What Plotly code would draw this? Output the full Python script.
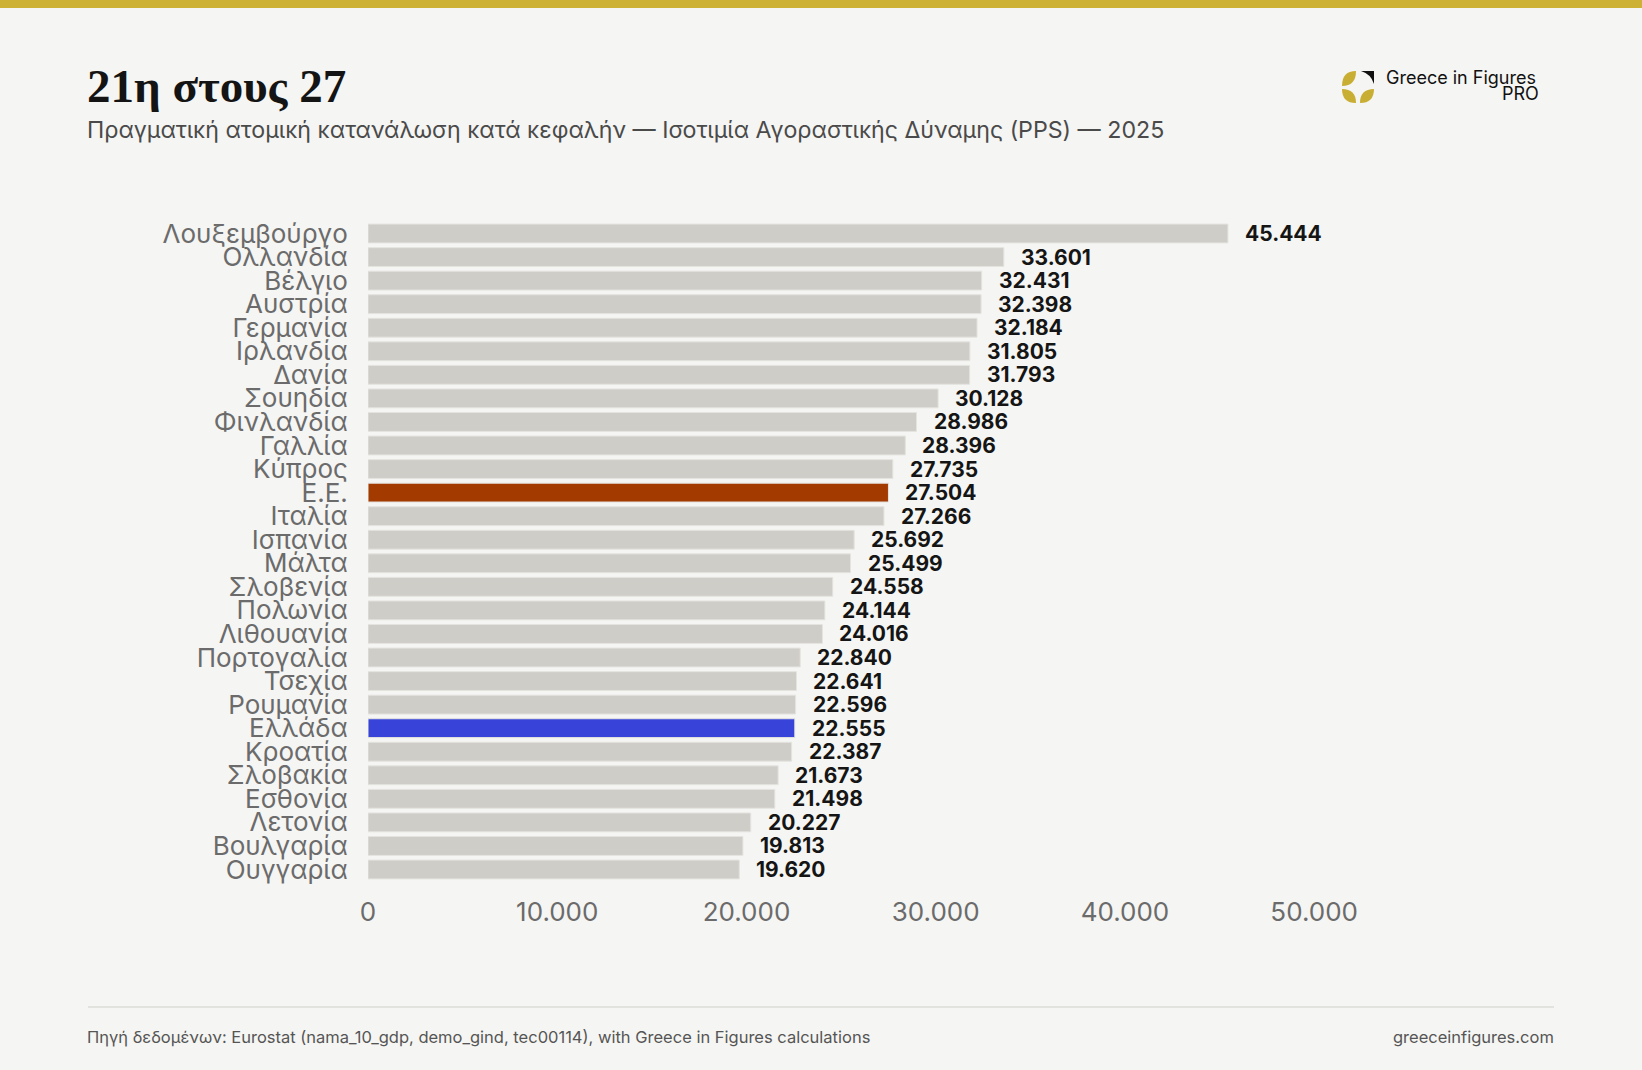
import plotly.graph_objects as go

# data, read top to bottom from the chart
countries = ["Λουξεμβούργο", "Ολλανδία", "Βέλγιο", "Αυστρία", "Γερμανία", "Ιρλανδία",
             "Δανία", "Σουηδία", "Φινλανδία", "Γαλλία", "Κύπρος", "Ε.Ε.", "Ιταλία",
             "Ισπανία", "Μάλτα", "Σλοβενία", "Πολωνία", "Λιθουανία", "Πορτογαλία",
             "Τσεχία", "Ρουμανία", "Ελλάδα", "Κροατία", "Σλοβακία", "Εσθονία",
             "Λετονία", "Βουλγαρία", "Ουγγαρία"]
values = [45444, 33601, 32431, 32398, 32184, 31805, 31793, 30128, 28986, 28396,
          27735, 27504, 27266, 25692, 25499, 24558, 24144, 24016, 22840, 22641,
          22596, 22555, 22387, 21673, 21498, 20227, 19813, 19620]
tick_vals = [0, 10000, 20000, 30000, 40000, 50000]

W, H = 1642, 1070
ML, MR, MT, MB = 368, 290, 219, 186
PW, PH = W - ML - MR, H - MT - MB

BG = "#f5f5f3"
GREY = "#cfcdc8"
colors = []
for c in countries:
    if c == "Ε.Ε.":
        colors.append("#a33a00")
    elif c == "Ελλάδα":
        colors.append("#3844d9")
    else:
        colors.append(GREY)


def px(x):
    return (x - ML) / PW


def py(y):
    return 1 - (y - MT) / PH


fig = go.Figure()
fig.add_trace(go.Bar(
    x=values, y=countries, orientation="h",
    marker=dict(color=colors, line=dict(color="#e4e3df", width=1)),
    hoverinfo="skip",
))

# value labels next to each bar
annotations = []
for c, v in zip(countries, values):
    annotations.append(dict(
        x=v, y=c, xref="x", yref="y", text=f"{v:,}".replace(",", "."),
        showarrow=False, xanchor="left", xshift=15,
        font=dict(family="Inter", size=21, color="#151515", weight="bold"),
    ))

# title, subtitle, logo text, footer
annotations += [
    dict(x=px(85), y=py(86), xref="paper", yref="paper", text="<b>21η στους 27</b>",
         showarrow=False, xanchor="left", yanchor="middle",
         font=dict(family="Liberation Serif", size=47, color="#141414")),
    dict(x=px(85), y=py(130), xref="paper", yref="paper",
         text="Πραγματική ατομική κατανάλωση κατά κεφαλήν — Ισοτιμία Αγοραστικής Δύναμης (PPS) — 2025",
         showarrow=False, xanchor="left", yanchor="middle",
         font=dict(family="Inter", size=23.2, color="#4a4a4a")),
    dict(x=px(1384), y=py(77), xref="paper", yref="paper", text="Greece in Figures",
         showarrow=False, xanchor="left", yanchor="middle",
         font=dict(family="Inter", size=18, color="#111111")),
    dict(x=px(1541), y=py(94), xref="paper", yref="paper", text="PRO",
         showarrow=False, xanchor="right", yanchor="middle",
         font=dict(family="Inter", size=18, color="#111111")),
    dict(x=px(85), y=py(1037), xref="paper", yref="paper",
         text="Πηγή δεδομένων: Eurostat (nama_10_gdp, demo_gind, tec00114), with Greece in Figures calculations",
         showarrow=False, xanchor="left", yanchor="middle",
         font=dict(family="Inter", size=16.5, color="#555555")),
    dict(x=px(1556), y=py(1037), xref="paper", yref="paper", text="greeceinfigures.com",
         showarrow=False, xanchor="right", yanchor="middle",
         font=dict(family="Inter", size=16.5, color="#555555")),
]

GOLD = "#c9ae34"
cx, cy, r = 1358, 87, 16
shapes = [
    # top gold stripe
    dict(type="rect", xref="paper", yref="paper", x0=px(0), x1=px(W), y0=py(0), y1=py(8),
         fillcolor="#cdb134", line=dict(width=0), layer="above"),
    # footer rule
    dict(type="line", xref="paper", yref="paper", x0=px(88), x1=px(1554), y0=py(1007), y1=py(1007),
         line=dict(color="#e2e2de", width=2)),
]


def leaf(x0, y0, x1, y1, bx, by):
    # lens shape between two points, bulging towards (bx, by) and mirrored on the other side
    mx, my = (x0 + x1) / 2, (y0 + y1) / 2
    ox, oy = 2 * mx - bx, 2 * my - by
    return (f"M {px(x0)} {py(y0)} Q {px(bx)} {py(by)} {px(x1)} {py(y1)} "
            f"Q {px(ox)} {py(oy)} {px(x0)} {py(y0)} Z")


# logo: three gold leaves and a black corner
shapes += [
    dict(type="path", xref="paper", yref="paper", path=leaf(cx - r, cy - 1, cx - 2, cy - r, cx - r, cy - r),
         fillcolor=GOLD, line=dict(width=0)),
    dict(type="path", xref="paper", yref="paper", path=leaf(cx - r, cy + 2, cx - 2, cy + r, cx - r, cy + r),
         fillcolor=GOLD, line=dict(width=0)),
    dict(type="path", xref="paper", yref="paper", path=leaf(cx + 2, cy + r, cx + r, cy + 2, cx + r, cy + r),
         fillcolor=GOLD, line=dict(width=0)),
    dict(type="path", xref="paper", yref="paper",
         path=f"M {px(cx + 3)} {py(cy - r)} L {px(cx + r)} {py(cy - r)} L {px(cx + r)} {py(cy - 3)} "
              f"Q {px(cx + r - 3)} {py(cy - r + 3)} {px(cx + 3)} {py(cy - r)} Z",
         fillcolor="#111111", line=dict(width=0)),
]

fig.update_layout(
    width=W, height=H,
    margin=dict(l=ML, r=MR, t=MT, b=MB),
    paper_bgcolor=BG, plot_bgcolor=BG,
    separators=",.",
    bargap=0.2,
    showlegend=False,
    annotations=annotations,
    shapes=shapes,
)
fig.update_xaxes(
    range=[0, 52000], tickvals=tick_vals, tickformat=",",
    showgrid=False, zeroline=False, showline=False,
    ticks="outside", ticklen=5, tickcolor=BG,
    tickfont=dict(family="Inter", size=26, color="#6b6b6b"),
)
fig.update_yaxes(
    categoryorder="array", categoryarray=countries, autorange="reversed",
    tickmode="array", tickvals=countries, ticktext=countries,
    showgrid=False, zeroline=False, showline=False,
    ticks="outside", ticklen=14, tickcolor=BG,
    tickfont=dict(family="Inter", size=26, color="#6b6b6b"),
)

fig.write_html("out.html", config={"displayModeBar": False},
               post_script="document.body.style.margin='0';")
